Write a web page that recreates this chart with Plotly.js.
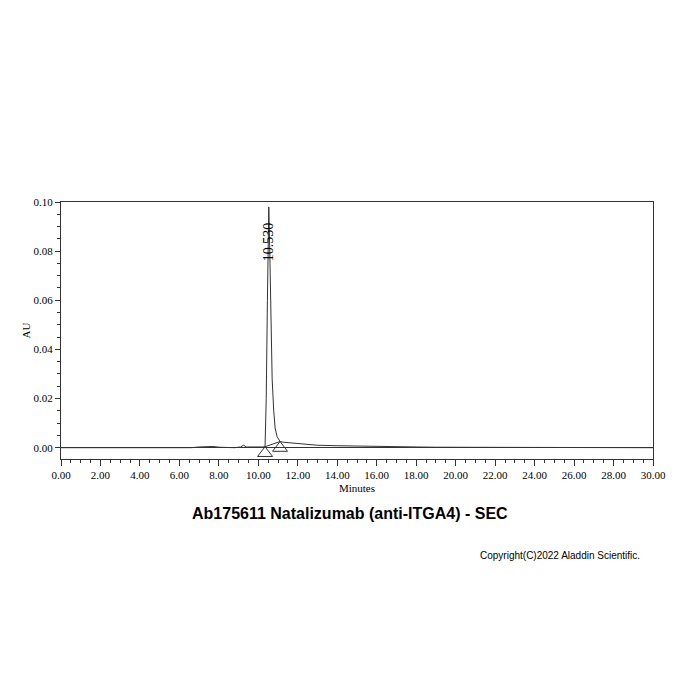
<!DOCTYPE html>
<html>
<head>
<meta charset="utf-8">
<script src="https://cdn.plot.ly/plotly-3.0.1.min.js"></script>
<style>
  body { margin: 0; background: #fff; }
  #chart { width: 700px; height: 700px; }
</style>
</head>
<body>
<div id="chart"></div>
<script>
// chromatogram (minutes, AU)
var minutes = [0, 1, 1.5, 1.8, 2.2, 3, 4, 5, 6, 6.6, 7.0, 7.3, 7.5, 7.7, 8.0, 8.4, 8.8, 9.1, 9.25, 9.4, 9.7, 10.0, 10.2, 10.34,
  10.40, 10.46, 10.50, 10.53, 10.58, 10.64, 10.70, 10.78, 10.85, 10.95, 11.1, 11.3, 11.6, 12.0, 12.5, 13, 14, 15, 16, 17, 18, 19, 20, 20.5, 21, 22, 24, 26, 28, 30];
var au = [0, 0, 0.0001, 0.0001, 0, 0, -0.0001, -0.0001, -0.0001, 0, 0.0003, 0.0005, 0.0006, 0.0005, 0.0002, 0, 0, 0.0003, 0.0010, 0.0003, 0.0002, 0.0002, 0.0003, 0.0004,
  0.02, 0.06, 0.09, 0.098, 0.08, 0.05, 0.028, 0.015, 0.008, 0.0045, 0.0025, 0.0022, 0.002, 0.0015, 0.0012, 0.001, 0.0008, 0.0006, 0.0005, 0.0004, 0.0003, 0.0002, 0.0002, 0.0001, 0, 0, 0, 0, 0, 0];

// integration start / end marks
var markTimes = [10.34, 11.1];
var markAU = [0.0004, 0.0025];

var peakTime = 10.53;
var peakAU = 0.098;
var peakLabel = "10.530";

var yMin = -0.0046, yMax = 0.1;
var plotH = 257;
var tri = 13;
var triOffset = (tri / 2) * (yMax - yMin) / plotH;
var markY = markAU.map(function(v){ return v - triOffset; });

var axisFont = {family: "Liberation Serif, DejaVu Serif, serif", size: 11, color: "#000"};

var trace1 = {
    type: "scatter",
    mode: "lines",
    x: minutes,
    y: au,
    line: {color: "#333", width: 1},
    hoverinfo: "none"
};
var base = {
    type: "scatter",
    mode: "lines",
    x: markTimes,
    y: markAU,
    line: {color: "#333", width: 1}
};
var marks = {
    type: "scatter",
    mode: "markers",
    x: markTimes,
    y: markY,
    marker: {symbol: "triangle-up-open", size: tri, color: "#333", line: {width: 1}}
};

var layout = {
    width: 700,
    height: 700,
    showlegend: false,
    paper_bgcolor: "#fff",
    plot_bgcolor: "#fff",
    margin: {l: 61, r: 47, t: 202, b: 241},
    xaxis: {
        range: [0, 30],
        dtick: 2,
        tick0: 0,
        tickformat: ".2f",
        ticks: "outside",
        ticklen: 6,
        tickcolor: "#333",
        minor: {dtick: 0.5, ticks: "outside", ticklen: 3, tickcolor: "#333"},
        showgrid: false,
        zeroline: false,
        showline: true,
        linecolor: "#333",
        linewidth: 1,
        mirror: true,
        tickfont: axisFont,
        title: {text: "Minutes", font: axisFont, standoff: 4}
    },
    yaxis: {
        range: [yMin, yMax],
        dtick: 0.02,
        tick0: 0,
        tickformat: ".2f",
        ticks: "outside",
        ticklen: 5,
        tickcolor: "#333",
        minor: {dtick: 0.005, ticks: "outside", ticklen: 3, tickcolor: "#333"},
        showgrid: false,
        zeroline: true,
        zerolinecolor: "#333",
        zerolinewidth: 1,
        showline: true,
        linecolor: "#333",
        linewidth: 1,
        mirror: true,
        tickfont: axisFont,
        title: {text: "AU", font: axisFont, standoff: 0}
    },
    annotations: [
        {
            x: peakTime, y: peakAU, xref: "x", yref: "y",
            text: peakLabel, textangle: -90, showarrow: false,
            xanchor: "center", yanchor: "top", yshift: -13,
            font: {family: "Liberation Serif, DejaVu Serif, serif", size: 14, color: "#000"}
        },
        {
            x: 0.5, y: 513, xref: "paper", yref: "paper",
            text: "<b>Ab175611 Natalizumab (anti-ITGA4) - SEC</b>",
            showarrow: false, xanchor: "center", yanchor: "middle",
            font: {family: "Liberation Sans, Arial, sans-serif", size: 16, color: "#000"}
        },
        {
            x: 642, y: 555, xref: "paper", yref: "paper",
            text: "Copyright(C)2022 Aladdin Scientific.",
            showarrow: false, xanchor: "right", yanchor: "middle",
            font: {family: "Liberation Sans, Arial, sans-serif", size: 10, color: "#000"}
        }
    ]
};

// title and copyright positions are given in page pixels above; turn them into paper units
var pw = 700 - 61 - 47, ph = 700 - 202 - 241;
layout.annotations[1].x = (350 - 61) / pw;
layout.annotations[1].y = (700 - 241 - 513) / ph;
layout.annotations[2].x = (642 - 61) / pw;
layout.annotations[2].y = (700 - 241 - 555) / ph;

Plotly.newPlot("chart", [trace1, base, marks], layout, {staticPlot: true});
</script>
</body>
</html>
